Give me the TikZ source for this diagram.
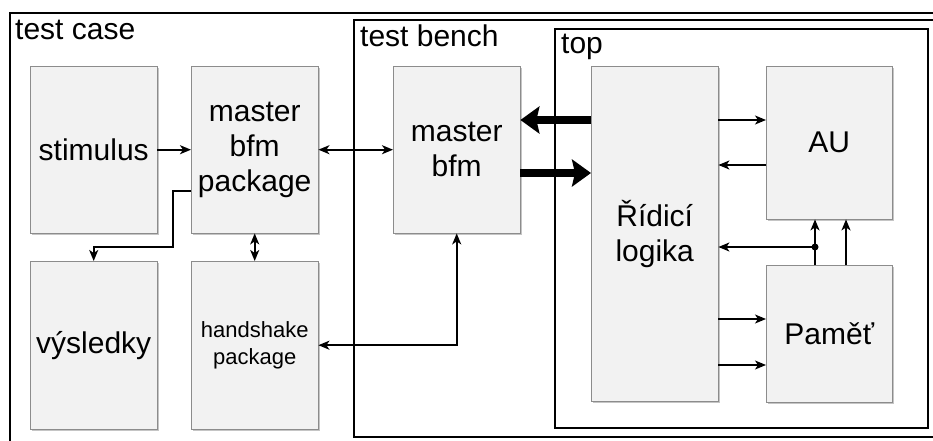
\documentclass[tikz,border=0pt]{standalone}
\usepackage{fontspec}
\setmainfont{Liberation Sans}
\usetikzlibrary{arrows.meta,shadows}

\begin{document}
\begin{tikzpicture}[x=1pt,y=-1pt,
    big/.style={font=\fontsize{30}{35}\selectfont},
    block/.style={big,draw=black!45,fill=black!5,anchor=north west,align=center,
        minimum width=127pt,inner sep=0pt,
        drop shadow={shadow xshift=1.5pt,shadow yshift=-2pt,fill=black!45}},
    frame/.style={draw,line width=1.8pt},
    title/.style={big,anchor=base west,inner sep=0pt},
    wire/.style={line width=1.6pt,-{Stealth[length=11pt,width=9pt,inset=3pt]}},
    dwire/.style={line width=1.6pt,{Stealth[length=11pt,width=9pt,inset=3pt]}-{Stealth[length=11pt,width=9pt,inset=3pt]}},
    bus/.style={line width=8pt,-{Stealth[length=19pt,width=27pt,inset=3pt]}}]

    \useasboundingbox (0,0) rectangle (933,441);
    \clip (0,0) rectangle (933,441);

    % Frames %
    \draw[frame] (10,13) rectangle (960,470);   % test case
    \draw[frame] (354,20) rectangle (950,437);  % test bench
    \draw[frame] (555,29) rectangle (928,428);  % top
    \node[title] (tcase) at (15,40) {test case};
    \node[title] (tbench) at (360,47) {test bench};
    \node[title] (ttop) at (561,54) {top};

    % Blocks %
    \node[block,minimum height=167pt] (stim) at (30,66) {stimulus};
    \node[block,minimum height=167pt] (mbpkg) at (191,66) {master\\bfm\\package};
    \node[block,minimum height=168pt] (vysl) at (30,261) {výsledky};
    \node[block,minimum height=168pt,font=\fontsize{22}{27}\selectfont] (hspkg) at (191,261) {handshake\\package};
    \node[block,minimum height=167pt] (mbfm) at (393,66) {master\\bfm};
    \node[block,minimum height=335pt] (ridici) at (591,66) {Řídicí\\logika};
    \node[block,minimum height=153pt,minimum width=126pt] (au) at (766,66) {AU};
    \node[block,minimum height=137pt,minimum width=126pt] (pamet) at (766,265) {Paměť};

    % Test case wiring %
    \path [wire] (stim) edge (mbpkg);
    \path [dwire] (mbpkg) edge (mbfm);
    \draw [wire] (mbpkg.west |- 0,191) -- (173,191) -- (173,247) -| (vysl.north);
    \path [dwire] (mbpkg) edge (hspkg);
    \draw [dwire] (hspkg.east) -| (mbfm.south);

    % Bus between bench and top %
    \path [bus] (ridici.west |- 0,120) edge (mbfm.east |- 0,120);
    \path [bus] (mbfm.east |- 0,173) edge (ridici.west |- 0,173);

    % Inside top %
    \path [wire] (ridici.east |- 0,120) edge (au.west |- 0,120);
    \path [wire] (au.west |- 0,165) edge (ridici.east |- 0,165);
    \path [wire] (ridici.east |- 0,319) edge (pamet.west |- 0,319);
    \path [wire] (ridici.east |- 0,365) edge (pamet.west |- 0,365);
    \path [wire] (pamet.north -| 815,0) edge (au.south -| 815,0);
    \path [wire] (pamet.north -| 846,0) edge (au.south -| 846,0);
    \coordinate (split) at (815,247);
    \fill (split) circle (3.5pt);
    \path [wire] (split) edge (ridici.east |- split);

\end{tikzpicture}
\end{document}
